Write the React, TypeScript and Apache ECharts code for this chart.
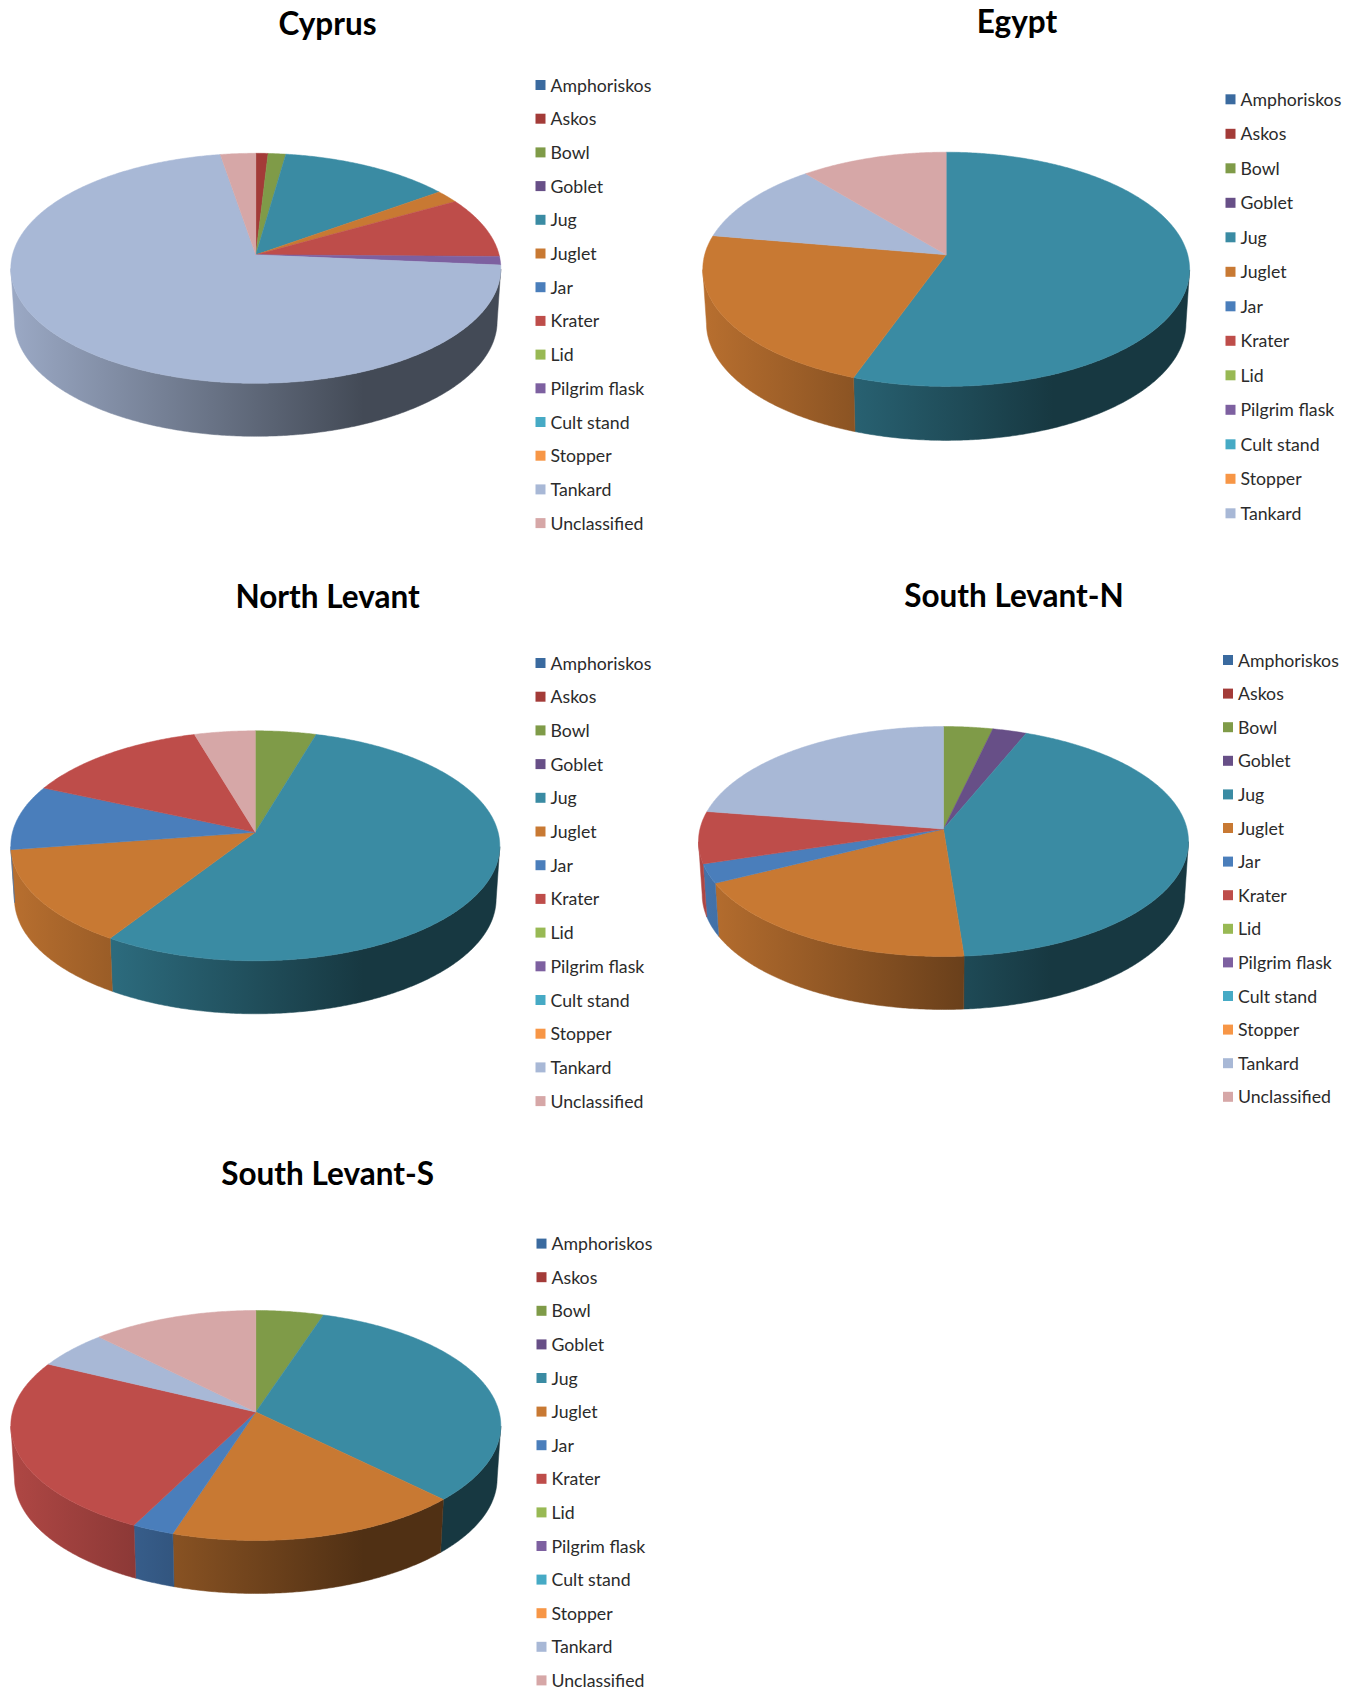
import React, { useEffect, useRef } from "react";
import * as echarts from "echarts";

const categories = ["Amphoriskos", "Askos", "Bowl", "Goblet", "Jug", "Juglet", "Jar", "Krater", "Lid", "Pilgrim flask", "Cult stand", "Stopper", "Tankard", "Unclassified"];
const colors = ["#3A6A9F", "#A33B38", "#7F9B48", "#674F87", "#3A8BA3", "#C87933", "#4A7EBB", "#BE4D4A", "#98B954", "#7D60A0", "#46AAC5", "#F79646", "#A8B8D6", "#D6A7A7"];

const cyprus = [0, 0.9, 1.3, 0, 12.7, 1.8, 0, 8.5, 0, 1.2, 0, 0, 70.9, 2.6];
const egypt = [0, 0, 0, 0, 55.5, 22.2, 0, 0, 0, 0, 0, 0, 11.3, 11];
const northLevant = [0, 0, 4.5, 0, 54.55, 13.55, 9.1, 13.8, 0, 0, 0, 0, 0, 4.5];
const southLevantN = [0, 0, 3.6, 2.5, 42.7, 18.7, 2.7, 7.3, 0, 0, 0, 0, 22.5, 0];
const southLevantS = [0, 0, 5, 0, 32.5, 17.4, 2.5, 24.9, 0, 0, 0, 0, 5.4, 12.3];

const pies = [
  { title: "Cyprus", values: cyprus, tx: 327.5, ty: 22.5, cx: 255.8, cy: 268.3, rx: 245, ry: 115, apexY: 254.8, depth: 53, lx: 535.5, ly: 85, step: 33.7, legend: categories },
  { title: "Egypt", values: egypt, tx: 1017, ty: 21, cx: 946.2, cy: 269.3, rx: 243.4, ry: 117.1, apexY: 254.8, depth: 54, lx: 1225.5, ly: 99.3, step: 34.5, legend: categories.slice(0, 13) },
  { title: "North Levant", values: northLevant, tx: 327.6, ty: 595.5, cx: 255.3, cy: 845.8, rx: 244.5, ry: 115, apexY: 832.3, depth: 53, lx: 535.5, ly: 663, step: 33.7, legend: categories },
  { title: "South Levant-N", values: southLevantN, tx: 1014, ty: 594.5, cx: 943.5, cy: 841.5, rx: 245, ry: 115, apexY: 829, depth: 53, lx: 1223, ly: 660, step: 33.6, legend: categories },
  { title: "South Levant-S", values: southLevantS, tx: 327.6, ty: 1172.5, cx: 255.8, cy: 1425.5, rx: 245, ry: 115, apexY: 1412, depth: 53, lx: 536.5, ly: 1243.6, step: 33.6, legend: categories },
];

function shade(hex: string, f: number) {
  const n = parseInt(hex.slice(1), 16);
  const ch = (v: number) => Math.round(v * f);
  return `rgb(${ch((n >> 16) & 255)},${ch((n >> 8) & 255)},${ch(n & 255)})`;
}

function makeRenderItem(pie: (typeof pies)[number], color: string) {
  const { cx, cy, rx, ry, apexY, depth } = pie;
  const c = (apexY - cy) / ry;
  const k = Math.sqrt(1 - c * c);
  const project = (theta: number) => {
    const u = Math.sin(theta);
    const v = -Math.cos(theta);
    const d = 1 + c * v;
    return { x: cx + (rx * k * u) / d, y: cy + (ry * (v + c)) / d };
  };
  return (_params: any, api: any) => {
    const value = api.value(0);
    if (!value) return null;
    const start = api.value(1);
    const total = api.value(2);
    const a0 = (start / total) * Math.PI * 2;
    const a1 = ((start + value) / total) * Math.PI * 2;
    const n = Math.max(2, Math.ceil((a1 - a0) / (Math.PI / 360)));
    const rim: { x: number; y: number }[] = [];
    for (let i = 0; i <= n; i++) rim.push(project(a0 + ((a1 - a0) * i) / n));

    const children: any[] = [];
    const runs: { x: number; y: number }[][] = [];
    let run: { x: number; y: number }[] = [];
    rim.forEach((p) => {
      if (p.y >= cy - 0.01) run.push(p);
      else if (run.length) {
        runs.push(run);
        run = [];
      }
    });
    if (run.length) runs.push(run);

    const fill = new echarts.graphic.LinearGradient(
      cx - rx,
      0,
      cx + rx,
      0,
      [
        { offset: 0, color: shade(color, 0.92) },
        { offset: 0.72, color: shade(color, 0.4) },
        { offset: 1, color: shade(color, 0.4) },
      ],
      true,
    );
    runs.forEach((r) => {
      if (r.length < 2) return;
      const bottom = r.map((p) => [cx + (p.x - cx) * 0.985, p.y + depth]).reverse();
      children.push({
        type: "polygon",
        silent: true,
        shape: { points: [...r.map((p) => [p.x, p.y]), ...bottom] },
        style: { fill, stroke: fill, lineWidth: 0.5 },
      });
    });
    children.push({
      type: "polygon",
      silent: true,
      z2: 5,
      shape: { points: [[cx, apexY], ...rim.map((p) => [p.x, p.y])] },
      style: { fill: color, stroke: color, lineWidth: 0.5 },
    });
    return { type: "group", children };
  };
}

export default function App() {
  const ref = useRef<HTMLDivElement>(null);
  useEffect(() => {
    const chart = echarts.init(ref.current!, undefined, { renderer: "svg" });
    const series: any[] = [];
    pies.forEach((pie) => {
      const total = pie.values.reduce((a, b) => a + b, 0);
      let start = 0;
      pie.values.forEach((v, i) => {
        series.push({
          type: "custom",
          name: categories[i],
          coordinateSystem: "none",
          silent: true,
          itemStyle: { color: colors[i] },
          renderItem: makeRenderItem(pie, colors[i]),
          data: [[v, start, total]],
        });
        start += v;
      });
    });
    chart.setOption({
      animation: false,
      backgroundColor: "#ffffff",
      title: pies.map((p) => ({
        text: p.title,
        left: p.tx,
        top: p.ty,
        padding: 0,
        textAlign: "center",
        textVerticalAlign: "middle",
        textStyle: { fontFamily: "Lato", fontWeight: "bold", fontSize: 31.5, color: "#000" },
      })),
      legend: pies.map((p) => ({
        orient: "vertical",
        left: p.lx,
        top: p.ly - 9,
        padding: 0,
        itemWidth: 10,
        itemHeight: 10,
        itemGap: p.step - 18,
        icon: "rect",
        selectedMode: false,
        data: p.legend,
        textStyle: { fontFamily: "Lato", fontSize: 17.7, lineHeight: 18, color: "#2b2b2b" },
      })),
      series,
    });
    return () => chart.dispose();
  }, []);
  return <div ref={ref} style={{ position: "absolute", left: 0, top: 0, width: 1358, height: 1692 }} />;
}
